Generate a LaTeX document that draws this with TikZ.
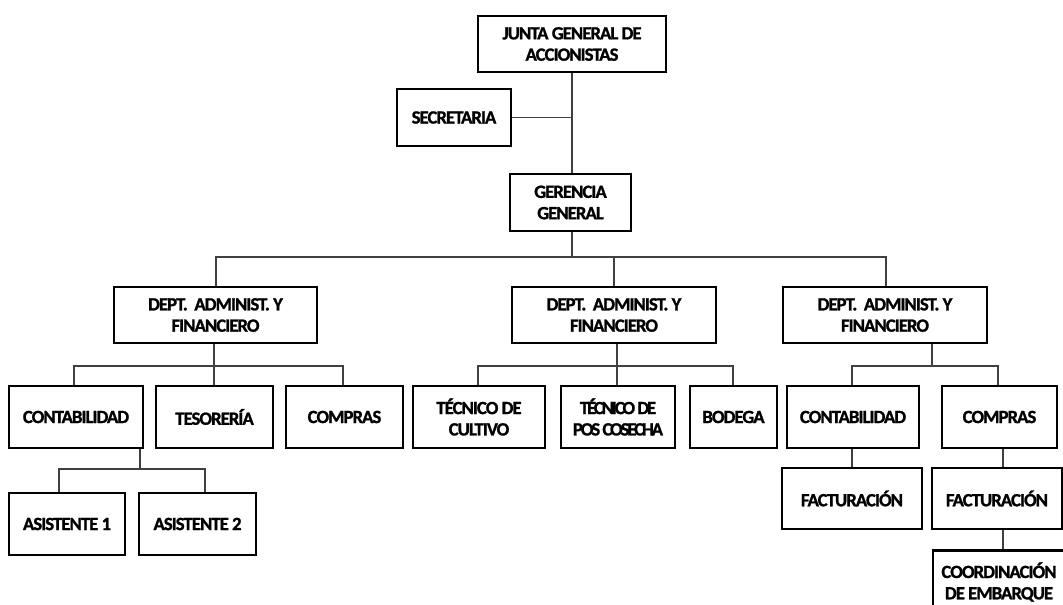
\documentclass[tikz,border=0pt]{standalone}
\usepackage{fontspec}
\setmainfont{Carlito}[LetterSpace=-5,BoldFeatures={FakeBold=1.2}]
\newfontfamily\tightfont{Carlito}[LetterSpace=-11,BoldFeatures={FakeBold=1.2}]
\begin{document}
\begin{tikzpicture}[x=0.75pt,y=-0.75pt,
  box/.style={draw=black, line width=2pt, fill=white, align=center, inner sep=0pt,
    font=\bfseries\fontsize{14}{16}\selectfont},
  conn/.style={draw=black!75, line width=1.1pt}]
\useasboundingbox (0,0) rectangle (1063,605);
\fill[white] (0,0) rectangle (1063,605);
% helper: nodes with given centre, width, height (px)
\newcommand{\bx}[6]{\node[box, minimum width=#4*0.75pt, minimum height=#5*0.75pt] (#1) at (#2,#3) {#6};}
\bx{junta}{572}{44}{188}{56}{JUNTA GENERAL DE\\ACCIONISTAS}
\bx{secre}{454}{117.5}{114}{57}{SECRETARIA}
\bx{ger}{570.5}{202.5}{121}{57}{GERENCIA\\GENERAL}
\bx{dept1}{215.5}{315}{203}{56}{DEPT.\ \ ADMINIST. Y\\FINANCIERO}
\bx{dept2}{614}{315}{204}{56}{DEPT.\ \ ADMINIST. Y\\FINANCIERO}
\bx{dept3}{885}{315}{204}{56}{DEPT.\ \ ADMINIST. Y\\FINANCIERO}
\bx{cont1}{76}{417}{134}{62}{CONTABILIDAD}
\bx{tes}{214.5}{417}{117}{62}{TESORERÍA}
\bx{comp1}{344.5}{417}{117}{62}{COMPRAS}
\bx{tec1}{479}{417}{132}{62}{TÉCNICO DE\\CULTIVO}
\bx{tec2}{618}{417}{114}{62}{\tightfont\bfseries TÉCNICO DE\\\tightfont\bfseries POS COSECHA}
\bx{bod}{733.5}{417}{87}{62}{BODEGA}
\bx{cont3}{853}{417}{132}{62}{CONTABILIDAD}
\bx{comp3}{999.5}{417}{115}{62}{COMPRAS}
\bx{asist1}{67}{524}{116}{62}{ASISTENTE 1}
\bx{asist2}{197.5}{524}{117}{62}{ASISTENTE 2}
\bx{fact1}{852}{498.5}{140}{61}{FACTURACIÓN}
\bx{fact2}{997}{498.5}{130}{61}{FACTURACIÓN}
\bx{coord}{999}{582}{132}{63}{COORDINACIÓN\\DE EMBARQUE}
% bus coordinates
\coordinate (s0) at (572,119);
\coordinate (m0) at (572,257);
\coordinate (mL) at (216,257);
\coordinate (mM) at (614,257);
\coordinate (mR) at (886,257);
\coordinate (d1) at (214,366);
\coordinate (d1L) at (74,366);
\coordinate (d1R) at (343,366);
\coordinate (d2) at (617,366);
\coordinate (d2L) at (478,366);
\coordinate (d2R) at (733,366);
\coordinate (d3) at (932,366);
\coordinate (d3L) at (852,366);
\coordinate (d3R) at (998,366);
\coordinate (a0) at (140,469);
\coordinate (a1) at (59,469);
\coordinate (a2) at (205,469);
\coordinate (f1) at (852,0);
\coordinate (f2) at (1003,0);
% connectors
\draw[conn] (junta.south -| s0) -- (ger.north -| s0);
\draw[conn] (secre.east) -- (secre.east -| s0);
\draw[conn] (ger.south -| m0) -- (m0);
\draw[conn] (dept1.north -| mL) -- (mL) -- (mR) -- (dept3.north -| mR);
\draw[conn] (mM) -- (dept2.north);
\draw[conn] (dept1.south -| d1) -- (d1);
\draw[conn] (cont1.north -| d1L) -- (d1L) -- (d1R) -- (comp1.north -| d1R);
\draw[conn] (d1) -- (tes.north -| d1);
\draw[conn] (dept2.south -| d2) -- (d2);
\draw[conn] (tec1.north -| d2L) -- (d2L) -- (d2R) -- (bod.north -| d2R);
\draw[conn] (d2) -- (tec2.north -| d2);
\draw[conn] (dept3.south -| d3) -- (d3);
\draw[conn] (cont3.north -| d3L) -- (d3L) -- (d3R) -- (comp3.north -| d3R);
\draw[conn] (cont1.south -| a0) -- (a0);
\draw[conn] (asist1.north -| a1) -- (a1) -- (a2) -- (asist2.north -| a2);
\draw[conn] (cont3.south -| f1) -- (fact1.north -| f1);
\draw[conn] (comp3.south -| f2) -- (fact2.north -| f2);
\draw[conn] (fact2.south -| f2) -- (coord.north -| f2);
\end{tikzpicture}
\end{document}
